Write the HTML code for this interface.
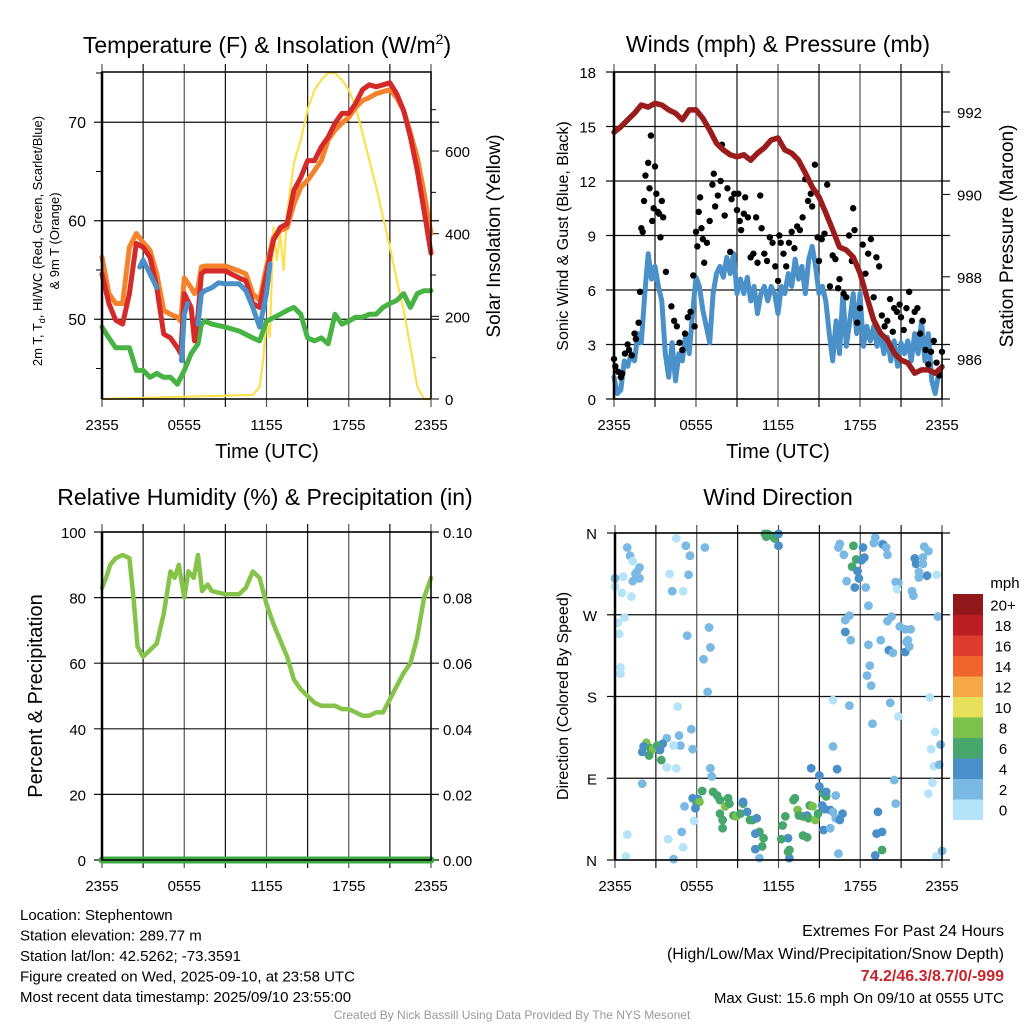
<!DOCTYPE html>
<html><head><meta charset="utf-8"><style>
html,body{margin:0;padding:0;background:#fff;}
svg{display:block;font-family:"Liberation Sans",sans-serif;}
</style></head><body>
<svg id="c" width="1024" height="1024" viewBox="0 0 1024 1024" xmlns="http://www.w3.org/2000/svg"></svg>
<script>
// ---------- data (hours since 2355 UTC) ----------
const tHours = [0,0.5,1,1.5,2,2.5,3,3.5,4,4.5,5,5.5,5.75,6,6.5,6.75,7,7.25,7.5,8,9,10,10.5,11,11.5,12,12.5,13,13.5,14,14.5,15,15.5,16,16.5,17,17.5,18,18.5,19,19.5,20,20.5,21,21.5,22,22.5,23,23.5,24];
const temp2m = [54.6,51.6,49.9,49.5,52.6,57.7,57.3,56.3,53.2,48.5,48.1,47.1,46.5,52.6,51.2,47.8,50.5,54.6,54.9,54.9,54.9,54.2,53.9,51.6,51.2,54.6,58.0,59.3,59.7,63.1,64.4,66.1,66.1,67.5,68.5,69.9,70.9,70.9,71.9,73.3,73.8,73.6,73.8,74.0,72.9,71.2,68.5,65.1,61.0,56.7];
const temp9m = [56.3,52.6,51.6,51.6,57.3,58.7,57.8,57.0,54.6,50.9,50.5,50.2,49.8,54.2,53.2,52.6,53.2,55.3,55.4,55.4,55.4,54.9,54.6,52.6,51.9,55.3,58.3,59.0,59.3,61.7,63.4,64.1,65.1,66.1,68.2,69.2,69.9,70.5,71.5,72.2,72.5,72.9,73.1,73.3,72.5,71.2,68.9,66.4,62.8,58.7];
const dewTimes = [0,0.5,1,1.5,2,2.5,3,3.5,4,4.5,5,5.5,6,6.5,7,7.25,7.5,8,9,10,11,11.5,12,13,13.5,14,14.5,15,15.5,16,16.5,17,17.5,18,18.5,19,19.5,20,20.5,21,21.5,22,22.5,23,23.5,24];
const dewpoint = [49.2,48.1,47.1,47.1,47.1,44.8,44.8,44.1,44.5,44.1,44.1,43.4,44.8,46.5,47.5,49.5,49.8,49.5,49.2,48.8,48.1,47.8,49.8,50.5,50.9,51.2,50.5,48.1,47.8,48.1,47.5,50.5,49.5,49.8,50.2,50.2,50.5,50.5,51.2,51.6,51.9,52.6,51.2,52.6,52.9,52.9];
const wcTimes = [[2.75,3,3.5,4],[5.8,6,6.25],[7,7.25,7.5,8,8.5,9,10,10.5,11,11.5,12,12.25]];
const windChill = [[55.3,56.0,54.6,53.2],[45.8,50.5,51.6],[49.5,52.6,52.9,53.2,53.7,53.6,53.6,52.9,51.2,49.2,52.6,55.6]];
const solarTimes = [0,11,11.5,11.75,12,12.25,12.5,12.75,13,13.25,13.5,14,14.5,15,15.5,16,16.5,17,17.5,18,18.5,19,19.5,20,20.5,21,21.5,22,22.5,23,23.5,24];
const solar = [0,10,29,94,191,150,416,336,401,312,450,571,627,700,748,772,789,789,772,748,707,643,578,513,440,368,288,215,126,29,0,0];

const presTimes = [0,0.5,1,1.5,2,2.5,3,3.5,4,4.5,5,5.5,6,6.5,7,7.5,8,8.5,9,9.5,10,10.5,11,11.5,12,12.5,13,13.5,14,14.5,15,15.5,16,16.5,17,17.5,18,18.5,19,19.5,20,20.5,21,21.5,22,22.5,23,23.5,24];
const pressure = [991.51,991.64,991.81,991.97,992.17,992.12,992.21,992.17,992.05,991.97,991.81,992.05,992.05,991.85,991.56,991.24,991.08,990.96,990.91,990.96,990.83,991.00,991.13,991.32,991.37,991.08,991.00,990.83,990.52,990.18,989.94,989.55,989.14,988.72,988.65,988.48,988.09,987.51,986.95,986.63,986.47,986.15,985.98,985.91,985.66,985.74,985.74,985.66,985.81];
const windSpeed = [1.2,0.3,0.5,2.1,1.8,2.5,2.1,3.6,3.1,5.8,8.0,6.6,7.3,6.2,5.4,2.5,1.2,3.1,1.0,2.5,2.1,3.6,2.5,4.7,6.7,6.2,4.9,4.0,3.1,5.8,6.9,7.3,6.7,7.8,6.9,8.0,5.8,6.6,5.8,6.7,5.4,6.2,4.7,5.8,6.2,5.4,6.2,5.8,4.7,6.2,5.8,6.9,6.2,7.7,6.6,7.3,5.8,7.7,8.4,7.3,5.8,6.2,5.4,3.6,2.1,4.3,2.5,5.8,2.9,4.3,5.8,3.6,5.8,2.9,4.0,3.2,4.0,2.9,3.6,2.5,3.4,2.1,3.2,1.8,3.1,2.5,3.2,2.1,3.6,2.5,4.3,2.1,3.6,1.0,0.3,1.4,1.8];
const gustTimes = [0,0.1,0.3,0.5,0.6,0.8,1,1.1,1.3,1.5,1.6,1.8,1.9,2.0,2.1,2.2,2.3,2.5,2.6,2.7,2.8,2.9,3.0,3.1,3.2,3.3,3.4,3.5,3.6,3.8,4.2,4.4,4.6,4.8,5.0,5.2,5.4,5.6,5.8,5.9,6.0,6.1,6.2,6.3,6.4,6.5,6.6,6.8,7.0,7.2,7.3,7.4,7.6,7.8,7.9,8.1,8.3,8.5,8.6,8.8,9.0,9.1,9.2,9.3,9.5,9.6,9.8,10.0,10.2,10.4,10.5,10.7,10.8,11.0,11.2,11.4,11.6,11.8,12.0,12.1,12.2,12.4,12.6,12.8,13.0,13.2,13.4,13.6,13.8,14.0,14.2,14.4,14.5,14.7,14.9,15.0,15.2,15.4,15.6,15.8,16.0,16.2,16.4,16.5,16.8,17.0,17.2,17.4,17.5,17.6,17.8,18.0,18.2,18.4,18.6,18.8,19.0,19.2,19.4,19.6,19.8,20.0,20.2,20.4,20.5,20.7,20.9,21.0,21.2,21.4,21.6,21.8,22.0,22.2,22.4,22.6,22.8,23.0,23.2,23.4,23.6,23.8,24];
const gusts = [2.2,1.8,1.5,1.2,1.4,2.5,3.0,2.7,2.4,3.6,3.3,4.2,5.9,9.4,9.2,10.9,12.3,13.0,11.6,14.5,9.8,10.5,12.8,11.3,10.3,10.2,8.9,10.9,10.0,7.0,5.1,4.3,4.0,3.1,2.7,3.6,4.5,4.8,6.8,4.0,9.2,8.4,10.3,11.1,9.4,8.8,7.5,8.6,9.8,11.8,12.4,10.6,11.2,12.0,14.0,10.1,11.6,8.1,11.0,11.3,10.4,11.3,9.8,9.3,10.2,11.1,10.0,7.8,8.0,10.0,7.5,11.2,9.4,8.0,7.6,8.9,8.6,7.3,6.5,9.0,8.6,8.0,7.3,8.6,9.2,8.3,9.5,9.3,10.0,12.1,10.9,11.3,10.6,12.9,8.9,7.6,8.8,9.1,11.8,6.2,7.9,7.7,6.1,6.6,5.8,5.6,9.0,7.6,10.5,9.3,4.2,5.0,8.5,6.9,8.0,8.8,5.6,7.8,7.3,4.6,4.0,4.3,5.5,3.7,5.0,4.8,5.2,4.5,3.8,5.0,5.9,4.3,4.8,5.0,3.6,4.3,2.7,1.9,2.6,3.2,2.0,1.3,2.6];

const rhTimes = [0,0.3,0.6,1,1.5,2,2.3,2.6,3,3.5,4,4.5,5,5.3,5.6,6,6.3,6.7,7,7.3,7.7,8,9,10,10.5,11,11.5,12,12.5,13,13.5,14,14.5,15,15.5,16,17,17.5,18,18.5,19,19.5,20,20.5,21,21.5,22,22.5,23,23.5,24];
const rh = [83,86,90,92,93,92,80,65,62,64,66,75,88,86,90,80,88,86,93,82,84,82,81,81,83,88,86,78,72,67,62,55,52,50,48,47,47,46,46,45,44,44,45,45,49,53,57,60,68,80,86];
const precipTimes = [0,24];
const precip = [0,0];

const dirTimes = [0.0,0.0,0.9,1.1,1.3,1.5,1.6,1.8,1.8,1.3,0.6,0.5,1.2,0.7,0.2,0.3,0.4,0.4,4.5,5.2,
5.5,6.6,4.0,5.4,4.2,5.0,5.3,6.9,7.0,6.5,6.8,4.6,5.6,4.7,3.8,3.5,2.3,2.1,2.6,2.8,
3.1,3.3,2.5,3.4,2.0,4.8,5.7,4.3,3.8,4.5,2.0,0.9,0.8,3.9,4.3,5.0,4.9,7.0,7.1,6.4,
6.1,5.7,6.0,6.2,5.9,5.1,5.8,7.2,7.5,7.7,8.1,8.3,8.4,7.7,8.7,8.9,9.2,9.4,9.4,9.7,
9.9,10.1,10.4,7.9,7.9,10.6,10.3,10.9,10.8,10.3,10.6,11.0,11.2,11.5,11.7,12.0,12.0,11.1,12.8,12.7,
12.8,12.7,12.2,12.3,12.5,13.1,13.2,13.4,13.5,13.8,14.1,14.2,14.3,14.5,14.7,14.9,15.2,15.0,15.3,15.5,
15.5,14.4,15.0,13.8,14.1,15.3,15.8,15.4,15.8,16.0,16.2,16.5,16.7,16.2,16.4,16.0,16.3,16.0,17.2,18.9,
20.8,20.2,23.1,23.5,23.2,23.9,23.4,23.8,23.3,23.0,20.5,20.6,19.3,19.2,19.6,19.1,19.6,23.6,24.0,16.5,
16.4,16.8,17.5,17.7,17.4,18.2,18.1,18.3,17.8,17.9,17.6,17.0,18.4,18.6,19.1,19.0,19.6,19.7,19.9,20.0,
20.6,20.8,20.7,22.0,22.1,22.6,22.7,23.0,22.6,22.3,22.3,22.9,23.6,21.8,21.9,23.7,16.9,17.2,16.9,17.3,
18.6,18.7,18.5,18.8,19.5,20.0,20.3,20.1,20.4,20.9,21.3,21.7,21.3,21.4,21.6,21.5];
const dirDeg = [310,301,344,335,329,315,317,322,310,307,312,294,290,267,261,249,212,205,354,346,
335,344,315,314,296,296,247,256,234,221,185,169,144,137,134,128,129,125,123,122,
126,121,115,110,119,126,122,126,102,101,84,28,4,23,1,14,31,101,92,76,
67,68,62,64,57,59,43,75,71,66,59,68,62,51,49,48,51,62,64,53,
44,44,46,44,35,31,29,24,15,12,2,359,359,357,354,359,346,356,2,9,
11,24,23,38,48,66,68,55,49,48,49,46,60,59,44,51,60,81,73,70,
75,101,93,27,25,33,35,56,55,53,46,44,51,71,7,125,100,176,170,150,
158,173,179,141,122,127,103,105,85,73,88,62,53,29,31,5,11,4,10,348,
344,336,346,331,323,344,330,333,318,310,300,307,300,280,355,349,348,347,344,336,
306,305,298,332,326,333,345,340,326,317,311,313,314,296,291,268,264,269,251,242,
237,214,203,192,242,263,268,231,228,257,254,254,229,240,235,242];
const dirSpeed = [3,1,3,3,1,3,3,3,3,3,1,1,1,1,1,1,1,1,1,3,
3,3,1,3,3,1,3,3,3,3,3,1,3,3,3,5,9,5,7,9,
7,5,7,7,5,3,3,1,1,1,3,1,1,1,3,1,3,3,3,7,
5,5,7,9,5,3,1,7,7,7,9,7,7,7,7,9,7,7,5,5,
7,7,5,7,7,7,5,7,7,5,3,7,7,7,7,5,5,7,5,7,
7,5,7,7,7,7,7,9,7,7,5,7,7,9,9,7,5,5,7,7,
5,5,5,7,7,5,3,5,5,3,3,5,5,3,3,3,5,1,3,3,
1,3,1,1,1,3,1,3,1,1,3,3,5,5,5,5,7,1,3,3,
3,3,7,7,7,5,5,5,5,5,5,3,3,3,3,3,3,5,3,3,
3,3,1,5,5,3,3,3,3,3,3,5,1,3,3,3,3,3,5,3,
3,3,3,3,3,3,3,5,3,3,3,3,5,3,3,3];

const xTickLabels = ["2355","0555","1155","1755","2355"];
const tempTicks = [50,60,70];
const solarTicks = [0,200,400,600];
const windTicks = [0,3,6,9,12,15,18];
const presTicks = [986,988,990,992];
const rhTicks = [0,20,40,60,80,100];
const precipTicks = ["0.00","0.02","0.04","0.06","0.08","0.10"];
const dirLabels = ["N","E","S","W","N"];
const speedLabels = ["0","2","4","6","8","10","12","14","16","18","20+"];
const speedColors = ["#b5e3f7","#7ab9e4","#4a8fc7","#47a66c","#7bc14b","#e6e05a","#f5a845","#f0652c","#de3a2d","#bd1e23","#92171a"];

// ---------- helpers ----------
const NS="http://www.w3.org/2000/svg";
const svg=document.getElementById('c');
function mk(tag,attrs,parent){const e=document.createElementNS(NS,tag);for(const k in attrs)e.setAttribute(k,attrs[k]);(parent||svg).appendChild(e);return e;}
function txt(s,x,y,size,anchor,parent,extra){const e=mk('text',Object.assign({x:x,y:y,'font-size':size,'text-anchor':anchor||'middle',fill:'#000'},extra||{}),parent);e.textContent=s;return e;}

function makePanel(name,x0,x1,y0,y1){
  const g=mk('g',{});
  
  
  const xs=h=>x0+(x1-x0)*h/24;
  for(let h=0;h<=24;h+=3){
    const l=mk('line',{x1:xs(h),x2:xs(h),y1:y0-8,y2:y1+8,stroke:(h%6===0)?'#555':'#111','stroke-width':1.2},g);
    
    
  }
  xTickLabels.forEach((s,i)=>{
    const t=txt(s,xs(i*6),y1+31,15,'middle',g);
    
    
  });
  return {g,xs};
}
function hline(g,x0,x1,y,name){const l=mk('line',{x1:x0-8,x2:x1+8,y1:y,y2:y,stroke:'#111','stroke-width':1.2},g);return l;}
function frame(g,x0,x1,y0,y1){const r=mk('rect',{x:x0,y:y0,width:x1-x0,height:y1-y0,fill:'none',stroke:'#000','stroke-width':1.5},g);
  mk('line',{x1:x0,x2:x0,y1:y0,y2:y1,stroke:'#000','stroke-width':2.5},g);}
function path(g,ts,vs,xs,ys,color,w,name){
  let d='';ts.forEach((t,i)=>{d+=(i?'L':'M')+xs(t).toFixed(1)+','+ys(vs[i]).toFixed(1);});
  const p=mk('path',{d:d,fill:'none',stroke:color,'stroke-width':w,'stroke-linejoin':'round','stroke-linecap':'round'},g);
  return p;}

// ---------- Panel 1: Temperature ----------
(function(){
  const x0=102,x1=431,y0=72,y1=399;
  const {g,xs}=makePanel('temperature-panel',x0,x1,y0,y1);
  const yT=v=>y1-(v-41.9)/(75.1-41.9)*(y1-y0);
  const yS=v=>y1-v*0.4133;
  tempTicks.forEach(v=>{hline(g,x0,x1,yT(v),'temp-gridline');const t=txt(String(v),x0-16,yT(v)+6,16,'end',g);});
  for(let v=45;v<=75;v+=10){mk('line',{x1:x0-6,x2:x0,y1:yT(v),y2:yT(v),stroke:'#000'},g);}
  solarTicks.forEach(v=>{mk('line',{x1:x1,x2:x1+8,y1:yS(v),y2:yS(v),stroke:'#000'},g);const t=txt(String(v),x1+14,yS(v)+6,15,'start',g);});
  for(let v=100;v<=700;v+=200){mk('line',{x1:x1,x2:x1+5,y1:yS(v),y2:yS(v),stroke:'#000'},g);}
  path(g,solarTimes,solar,xs,yS,'#fde050',2.2,'solar-insolation-line');
  path(g,dewTimes,dewpoint,xs,yT,'#46b343',5,'dewpoint-line');
  path(g,tHours,temp9m,xs,yT,'#f5832c',5,'temp-9m-line');
  path(g,tHours,temp2m,xs,yT,'#d42a2a',5,'temp-2m-line');
  wcTimes.forEach((ts,i)=>path(g,ts,windChill[i],xs,yT,'#4a90c9',5,'wind-chill-line'));
  frame(g,x0,x1,y0,y1);
  const t=mk('text',{x:267,y:53,'font-size':23,'text-anchor':'middle'});
  t.innerHTML='Temperature (F) &amp; Insolation (W/m<tspan dy="-9" font-size="14">2</tspan><tspan dy="9">)</tspan>';
  const xl=txt('Time (UTC)',267,458,20,'middle');
  const yl=mk('text',{x:0,y:0,'font-size':13,'text-anchor':'middle',transform:'translate(42,241) rotate(-90)'});
  yl.innerHTML='2m T, T<tspan dy="3" font-size="9">d</tspan><tspan dy="-3">, HI/WC (Red, Green, Scarlet/Blue)</tspan>';
  const yl2=mk('text',{x:0,y:0,'font-size':13,'text-anchor':'middle',transform:'translate(59,241) rotate(-90)'});yl2.textContent='& 9m T (Orange)';
  const yr=mk('text',{x:0,y:0,'font-size':19,'text-anchor':'middle',transform:'translate(500,236) rotate(-90)'});yr.textContent='Solar Insolation (Yellow)';
})();

// ---------- Panel 2: Winds & Pressure ----------
(function(){
  const x0=614,x1=942,y0=72,y1=399;
  const {g,xs}=makePanel('winds-panel',x0,x1,y0,y1);
  const yW=v=>y1-v/18*(y1-y0);
  const yP=v=>112+(992-v)*41.2;
  windTicks.forEach(v=>{hline(g,x0,x1,yW(v),'wind-gridline');const t=txt(String(v),x0-18,yW(v)+6,15,'end',g);});
  presTicks.forEach(v=>{mk('line',{x1:x1,x2:x1+8,y1:yP(v),y2:yP(v),stroke:'#000'},g);const t=txt(String(v),x1+15,yP(v)+6,15,'start',g);});
  const ws=windSpeed.map((_,i)=>i*0.25);
  path(g,ws,windSpeed,xs,yW,'#4a90c9',5,'sonic-wind-line');
  gustTimes.forEach((t,i)=>{const c=mk('circle',{cx:xs(t),cy:yW(gusts[i]),r:3.2,fill:'#000'},g);});
  path(g,presTimes,pressure,xs,yP,'#9b1c1c',5.5,'pressure-line');
  frame(g,x0,x1,y0,y1);
  const t=txt('Winds (mph) & Pressure (mb)',778,52,23,'middle');
  const xl=txt('Time (UTC)',778,458,20,'middle');
  const yl=mk('text',{x:0,y:0,'font-size':16,'text-anchor':'middle',transform:'translate(568,236) rotate(-90)'});yl.textContent='Sonic Wind & Gust (Blue, Black)';
  const yr=mk('text',{x:0,y:0,'font-size':19,'text-anchor':'middle',transform:'translate(1013,236) rotate(-90)'});yr.textContent='Station Pressure (Maroon)';
})();

// ---------- Panel 3: RH & Precip ----------
(function(){
  const x0=102,x1=431,y0=532,y1=860;
  const {g,xs}=makePanel('humidity-panel',x0,x1,y0,y1);
  const yR=v=>y1-v/100*(y1-y0);
  const yPr=v=>y1-v/0.1*(y1-y0);
  rhTicks.forEach(v=>{hline(g,x0,x1,yR(v),'rh-gridline');const t=txt(String(v),x0-16,yR(v)+6,15,'end',g);});
  precipTicks.forEach(s=>{const v=parseFloat(s);const t=txt(s,x1+12,yPr(v)+6,15,'start',g);});
  path(g,rhTimes,rh,xs,yR,'#86c34a',4.5,'rh-line');
  path(g,precipTimes,precip,xs,yPr,'#3ea844',7,'precip-line');
  frame(g,x0,x1,y0,y1);
  const t=txt('Relative Humidity (%) & Precipitation (in)',265,505,23,'middle');
  const yl=mk('text',{x:0,y:0,'font-size':20,'text-anchor':'middle',transform:'translate(42,696) rotate(-90)'});yl.textContent='Percent & Precipitation';
})();

// ---------- Panel 4: Wind direction ----------
(function(){
  const x0=615,x1=942,y0=533,y1=860;
  const {g,xs}=makePanel('wind-direction-panel',x0,x1,y0,y1);
  const yD=v=>y1-v/360*(y1-y0);
  dirLabels.forEach((s,i)=>{hline(g,x0,x1,yD(i*90),'direction-gridline');const t=txt(s,x0-18,yD(i*90)+6,15,'end',g);});
  const col=s=>speedColors[Math.max(0,Math.min(10,Math.floor((s||0)/2)))];
  dirTimes.forEach((t,i)=>{const c=mk('circle',{cx:xs(t),cy:yD(dirDeg[i]),r:4.4,fill:col(dirSpeed[i])},g);});
  frame(g,x0,x1,y0,y1);
  const t=txt('Wind Direction',778,505,23,'middle');
  const yl=mk('text',{x:0,y:0,'font-size':16,'text-anchor':'middle',transform:'translate(568,696) rotate(-90)'});yl.textContent='Direction (Colored By Speed)';
  const cb=mk('g',{});
  const top=594,hgt=20.5;
  speedColors.forEach((c,i)=>{const r=mk('rect',{x:953,y:top+(10-i)*hgt,width:30,height:hgt+0.5,fill:c},cb);
    const tl=txt(speedLabels[i],1003,top+(10-i)*hgt+hgt/2+6,15,'middle',cb);});
  const u=txt('mph',1005,588,15,'middle',cb);
})();

// ---------- footer ----------
const leftLines=["Location: Stephentown","Station elevation: 289.77 m","Station lat/lon: 42.5262; -73.3591","Figure created on Wed, 2025-09-10, at 23:58 UTC","Most recent data timestamp: 2025/09/10 23:55:00"];
leftLines.forEach((s,i)=>{const t=txt(s,20,920+i*20.5,15,'start');});
const r1=txt('Extremes For Past 24 Hours',1004,936,16,'end');
const r2=txt('(High/Low/Max Wind/Precipitation/Snow Depth)',1004,959,16,'end');
const r3=txt('74.2/46.3/8.7/0/-999',1004,981,16,'end',null,{fill:'#c8242b','font-weight':'bold'});
const r4=txt('Max Gust: 15.6 mph On 09/10 at 0555 UTC',1004,1003,15,'end');
const cr=txt('Created By Nick Bassill Using Data Provided By The NYS Mesonet',512,1019,12,'middle',null,{fill:'#999'});
</script>
</body></html>
